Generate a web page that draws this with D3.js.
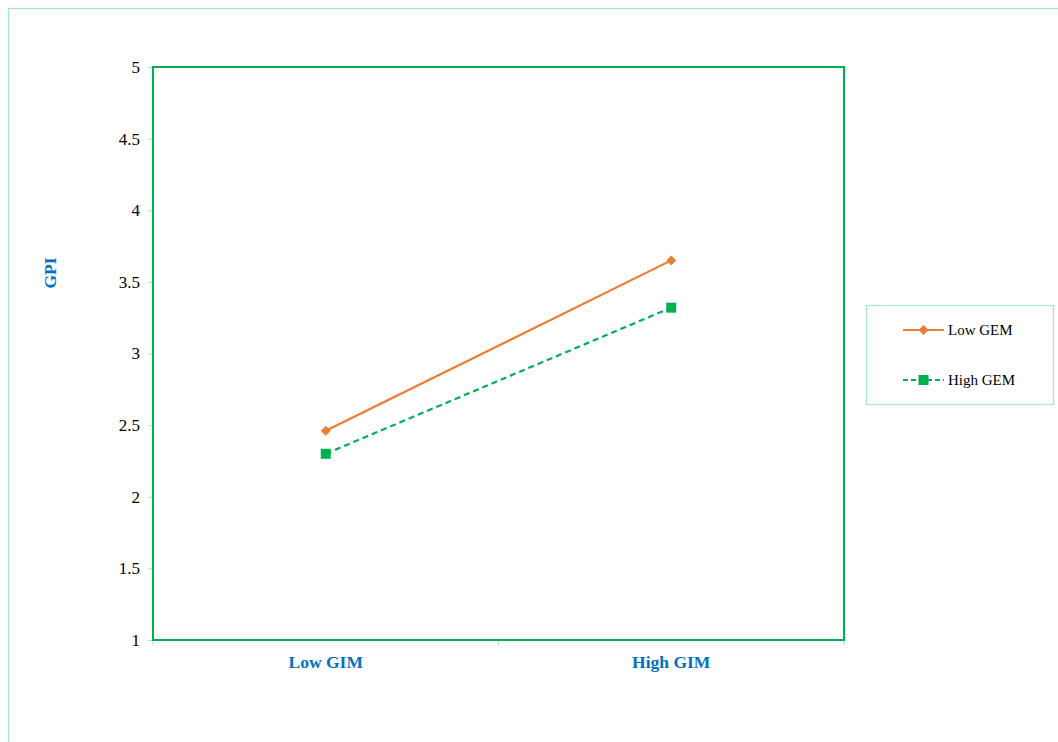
<!DOCTYPE html>
<html>
<head>
<meta charset="utf-8">
<script src="https://cdn.jsdelivr.net/npm/d3@7"></script>
<style>
  html, body { margin: 0; padding: 0; background: #fff; }
  svg text { font-family: "Liberation Serif", "Times New Roman", serif; }
</style>
</head>
<body>
<svg id="chart" width="1058" height="742"></svg>
<script>
// Categories on the x axis
const categories = ["Low GIM", "High GIM"];
// Series: GPI at each GIM level
const seriesNames = ["Low GEM", "High GEM"];
const lowGEM = [2.46, 3.65];
const highGEM = [2.30, 3.32];
// Y axis ticks
const yTicks = [1, 1.5, 2, 2.5, 3, 3.5, 4, 4.5, 5];

const svg = d3.select("#chart");
const plot = { left: 153, right: 844, top: 67, bottom: 640 };

// Outer chart border
svg.append("rect")
  .attr("x", 8.5).attr("y", 8.5)
  .attr("width", 1060).attr("height", 760)
  .attr("fill", "none").attr("stroke", "#a6e6c1").attr("stroke-width", 1.2);

const x = d3.scaleBand().domain(categories).range([plot.left, plot.right]);
const y = d3.scaleLinear().domain([1, 5]).range([plot.bottom, plot.top]);

// Y axis
const yAxis = svg.append("g")
  .attr("transform", `translate(${plot.left},0)`)
  .call(d3.axisLeft(y).tickValues(yTicks).tickSize(5).tickPadding(8).tickFormat(d3.format("")));
yAxis.select(".domain").remove();
yAxis.selectAll(".tick line").attr("stroke", "#a6e6c1");
yAxis.selectAll(".tick text").attr("fill", "#000").style("font-size", "17px")
  .style("font-family", "'Liberation Serif', serif");

// X axis: ticks at category boundaries, labels at band centres
const boundaries = [plot.left, plot.left + x.bandwidth(), plot.right];
svg.append("g").selectAll("line").data(boundaries).join("line")
  .attr("x1", d => d).attr("x2", d => d)
  .attr("y1", plot.bottom).attr("y2", plot.bottom + 5)
  .attr("stroke", "#a6e6c1");

svg.append("g").selectAll("text").data(categories).join("text")
  .attr("x", d => x(d) + x.bandwidth() / 2)
  .attr("y", 668)
  .attr("text-anchor", "middle")
  .attr("fill", "#0070C0")
  .style("font-weight", "bold")
  .style("font-size", "17.5px")
  .text(d => d);

// Plot area frame
svg.append("rect")
  .attr("x", plot.left).attr("y", plot.top)
  .attr("width", plot.right - plot.left).attr("height", plot.bottom - plot.top)
  .attr("fill", "none").attr("stroke", "#00B050").attr("stroke-width", 2);

// Y axis title
svg.append("text")
  .attr("transform", `translate(56,273) rotate(-90)`)
  .attr("text-anchor", "middle")
  .attr("fill", "#0070C0")
  .style("font-weight", "bold")
  .style("font-size", "17.5px")
  .text("GPI");

const cx = d => x(d) + x.bandwidth() / 2;
const line = d3.line().x(d => cx(d.cat)).y(d => y(d.v));

// Diamonds are squares turned by 45 degrees
const series = [
  { name: seriesNames[0], values: lowGEM, color: "#ED7D31", dash: null, marker: d3.symbolSquare, size: 50, rot: 45 },
  { name: seriesNames[1], values: highGEM, color: "#00B050", dash: "6,4", marker: d3.symbolSquare, size: 100, rot: 0 }
];

series.forEach(s => {
  const pts = categories.map((c, i) => ({ cat: c, v: s.values[i] }));
  svg.append("path").datum(pts)
    .attr("d", line)
    .attr("fill", "none")
    .attr("stroke", s.color)
    .attr("stroke-width", 2.2)
    .attr("stroke-dasharray", s.dash);
  svg.append("g").selectAll("path").data(pts).join("path")
    .attr("transform", d => `translate(${cx(d.cat)},${y(d.v)}) rotate(${s.rot})`)
    .attr("d", d3.symbol().type(s.marker).size(s.size))
    .attr("fill", s.color);
});

// Legend
const legend = svg.append("g");
legend.append("rect")
  .attr("x", 866.5).attr("y", 305.5).attr("width", 187).attr("height", 99)
  .attr("fill", "#fff").attr("stroke", "#a6e6c1").attr("stroke-width", 1.2);
series.forEach((s, i) => {
  const ly = 330 + i * 50;
  legend.append("line")
    .attr("x1", 903).attr("x2", 944).attr("y1", ly).attr("y2", ly)
    .attr("stroke", s.color).attr("stroke-width", 2.2)
    .attr("stroke-dasharray", s.dash ? "5,3" : null);
  legend.append("path")
    .attr("transform", `translate(923.5,${ly}) rotate(${s.rot})`)
    .attr("d", d3.symbol().type(s.marker).size(s.size))
    .attr("fill", s.color);
  legend.append("text")
    .attr("x", 948).attr("y", ly + 5)
    .attr("fill", "#000")
    .style("font-size", "15px")
    .text(s.name);
});
</script>
</body>
</html>
